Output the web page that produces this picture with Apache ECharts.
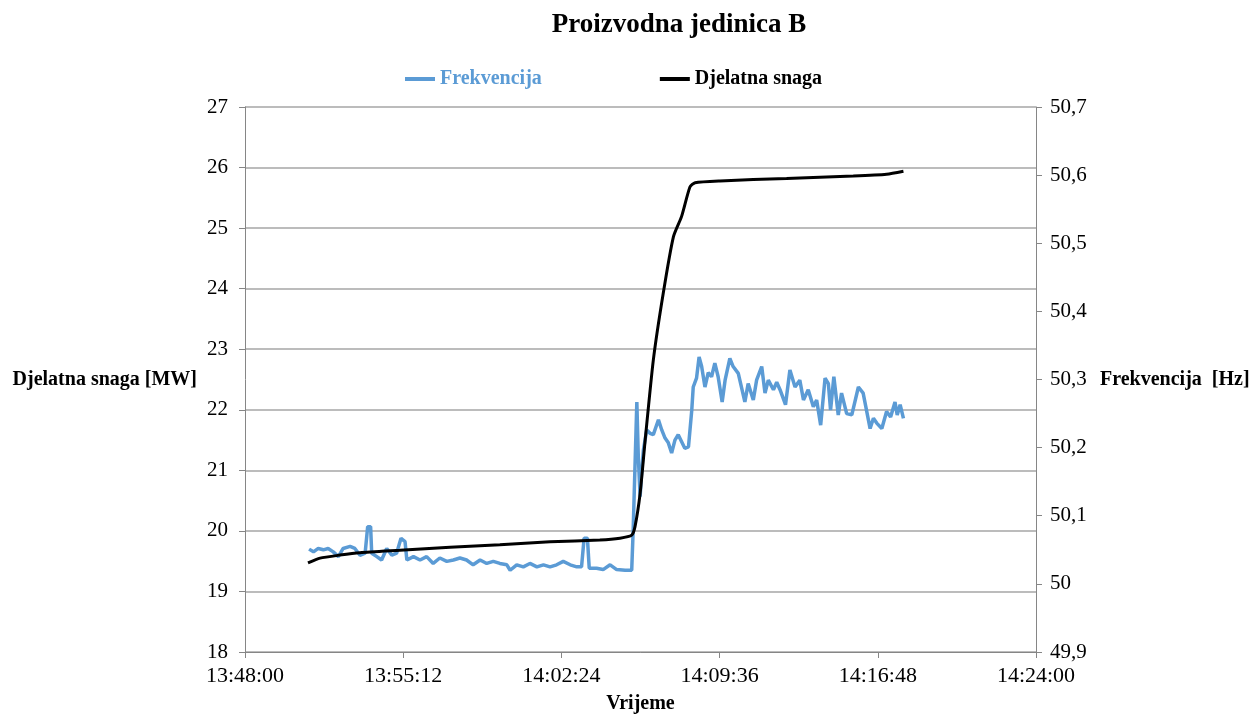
<!DOCTYPE html>
<html>
<head>
<meta charset="utf-8">
<script src="https://cdn.jsdelivr.net/npm/echarts@6/dist/echarts.min.js"></script>
<style>
html,body{margin:0;padding:0;background:#fff;}
#chart{width:1256px;height:716px;}
</style>
</head>
<body>
<div id="chart"></div>
<script>
const titleText = 'Proizvodna jedinica B';
const xTickStart = '13:48:00';
const xTickEnd = '14:24:00';
const xTickStepSeconds = 432;

const frekTimes = ['13:50:55','13:51:07','13:51:20','13:51:34','13:51:47','13:52:01','13:52:15','13:52:28','13:52:47','13:53:00',
'13:53:14','13:53:28','13:53:35','13:53:43','13:53:46','13:54:00','13:54:13','13:54:27','13:54:41','13:54:54',
'13:55:06','13:55:17','13:55:22','13:55:40','13:55:58','13:56:16','13:56:34','13:56:52','13:57:11','13:57:29',
'13:57:47','13:58:05','13:58:23','13:58:42','13:59:00','13:59:18','13:59:36','13:59:55','14:00:04','14:00:22',
'14:00:40','14:00:58','14:01:17','14:01:35','14:01:53','14:02:11','14:02:29','14:02:48','14:03:06','14:03:19',
'14:03:26','14:03:35','14:03:40','14:04:00','14:04:18','14:04:37','14:04:55','14:05:18','14:05:36','14:05:40',
'14:05:50','14:05:54','14:05:59','14:06:03','14:06:08','14:06:17','14:06:26','14:06:35','14:06:49','14:06:58',
'14:07:07','14:07:16','14:07:25','14:07:34','14:07:43','14:07:52','14:08:01','14:08:11','14:08:20','14:08:24',
'14:08:33','14:08:40','14:08:47','14:08:56','14:09:05','14:09:14','14:09:23','14:09:32','14:09:43','14:09:51',
'14:10:04','14:10:13','14:10:27','14:10:45','14:10:54','14:11:08','14:11:17','14:11:31','14:11:40','14:11:49',
'14:12:03','14:12:12','14:12:21','14:12:36','14:12:48','14:13:02','14:13:15','14:13:25','14:13:38','14:13:52',
'14:14:01','14:14:12','14:14:24','14:14:33','14:14:39','14:14:48','14:15:00','14:15:09','14:15:23','14:15:37',
'14:15:55','14:16:08','14:16:27','14:16:36','14:16:45','14:16:59','14:17:12','14:17:23','14:17:35','14:17:41',
'14:17:49','14:17:58'];

const frekvencija = [50.051,50.047,50.052,50.050,50.052,50.047,50.040,50.052,50.055,50.052,
50.042,50.045,50.084,50.084,50.045,50.040,50.035,50.052,50.042,50.045,
50.067,50.062,50.035,50.040,50.035,50.040,50.030,50.038,50.033,50.035,
50.038,50.035,50.028,50.035,50.030,50.033,50.030,50.028,50.020,50.028,
50.025,50.030,50.025,50.028,50.025,50.028,50.033,50.028,50.025,50.025,
50.067,50.067,50.023,50.023,50.021,50.028,50.021,50.020,50.020,50.079,
50.267,50.187,50.128,50.163,50.197,50.226,50.221,50.219,50.241,50.226,
50.214,50.207,50.192,50.211,50.219,50.209,50.199,50.201,50.255,50.289,
50.302,50.333,50.319,50.289,50.310,50.304,50.324,50.304,50.267,50.299,
50.331,50.319,50.309,50.267,50.294,50.270,50.299,50.319,50.280,50.299,
50.285,50.296,50.285,50.263,50.314,50.289,50.299,50.270,50.285,50.260,
50.270,50.233,50.302,50.294,50.255,50.304,50.248,50.280,50.250,50.248,
50.289,50.280,50.228,50.243,50.236,50.228,50.253,50.245,50.267,50.248,
50.263,50.243];

const snagaTimes = ['13:50:52','13:51:25','13:52:19','13:53:14','13:55:03','13:57:20','13:59:36','14:01:53','14:04:09','14:05:04',
'14:05:36','14:05:45','14:05:59','14:06:12','14:06:35','14:07:02','14:07:30','14:07:52','14:08:15','14:08:29',
'14:09:37','14:12:39','14:15:41','14:17:12','14:17:58'];

const snaga = [19.47,19.55,19.60,19.64,19.68,19.73,19.77,19.82,19.85,19.88,
19.93,20.07,20.62,21.45,22.82,23.92,24.86,25.19,25.68,25.75,
25.78,25.82,25.86,25.89,25.94];

function toSec(s){const p=s.split(':').map(Number);return p[0]*3600+p[1]*60+p[2];}
function fmt(v){v=Math.round(v);const h=Math.floor(v/3600),m=Math.floor((v%3600)/60),s=v%60;
  return h+':'+String(m).padStart(2,'0')+':'+String(s).padStart(2,'0');}
function zip(t,v){return t.map((x,i)=>[toSec(x),v[i]]);}

const FONT = '"Liberation Serif","Times New Roman",serif';
const chart = echarts.init(document.getElementById('chart'));
chart.setOption({
  animation:false,
  backgroundColor:'#fff',
  title:{text:titleText,left:674,top:7,textAlign:'center',
    textStyle:{fontFamily:FONT,fontWeight:'bold',fontSize:27,color:'#000'}},
  legend:{left:400,top:64,itemGap:118,itemWidth:30,itemHeight:4,icon:'rect',
    textStyle:{fontFamily:FONT,fontWeight:'bold',fontSize:20},
    data:[{name:'Frekvencija',textStyle:{color:'#5B9BD5'}},{name:'Djelatna snaga',textStyle:{color:'#000'}}]},
  grid:{left:245,right:220,top:107,bottom:64,containLabel:false,outerBoundsMode:'none'},
  xAxis:{type:'value',min:toSec(xTickStart),max:toSec(xTickEnd),interval:xTickStepSeconds,
    name:'Vrijeme',nameLocation:'middle',nameGap:42,
    nameTextStyle:{fontFamily:FONT,fontWeight:'bold',fontSize:20,color:'#000'},
    axisLine:{lineStyle:{color:'#868686',width:1}},
    axisTick:{show:true,length:6,lineStyle:{color:'#868686'}},
    axisLabel:{formatter:fmt,fontFamily:FONT,fontSize:22,color:'#000',margin:13},
    splitLine:{show:false}},
  yAxis:[
    {type:'value',min:18,max:27,interval:1,position:'left',
      name:'Djelatna snaga [MW]',nameLocation:'middle',nameRotate:0,nameGap:48,
      nameTextStyle:{fontFamily:FONT,fontWeight:'bold',fontSize:20,color:'#000',padding:[6,0,0,0]},
      axisLine:{show:true,lineStyle:{color:'#868686'}},
      axisTick:{show:true,length:6,lineStyle:{color:'#868686'}},
      axisLabel:{fontFamily:FONT,fontSize:21,color:'#000',margin:17},
      splitLine:{show:true,lineStyle:{color:'#A6A6A6',width:1.5}}},
    {type:'value',min:49.9,max:50.7,interval:0.1,position:'right',
      name:'Frekvencija  [Hz]',nameLocation:'middle',nameRotate:0,nameGap:64,
      nameTextStyle:{fontFamily:FONT,fontWeight:'bold',fontSize:20,color:'#000',padding:[6,0,0,0]},
      axisLine:{show:true,lineStyle:{color:'#868686'}},
      axisTick:{show:true,length:6,lineStyle:{color:'#868686'}},
      axisLabel:{fontFamily:FONT,fontSize:21,color:'#000',margin:14,
        formatter:v=>(Math.round(v*10)/10).toString().replace('.',',')},
      splitLine:{show:false}}
  ],
  series:[
    {name:'Frekvencija',type:'line',yAxisIndex:1,showSymbol:false,symbol:'none',
      lineStyle:{color:'#5B9BD5',width:3.5},itemStyle:{color:'#5B9BD5'},
      data:zip(frekTimes,frekvencija)},
    {name:'Djelatna snaga',type:'line',yAxisIndex:0,showSymbol:false,symbol:'none',smooth:0.2,
      lineStyle:{color:'#000',width:3},itemStyle:{color:'#000'},
      data:zip(snagaTimes,snaga)}
  ]
});
</script>
</body>
</html>
